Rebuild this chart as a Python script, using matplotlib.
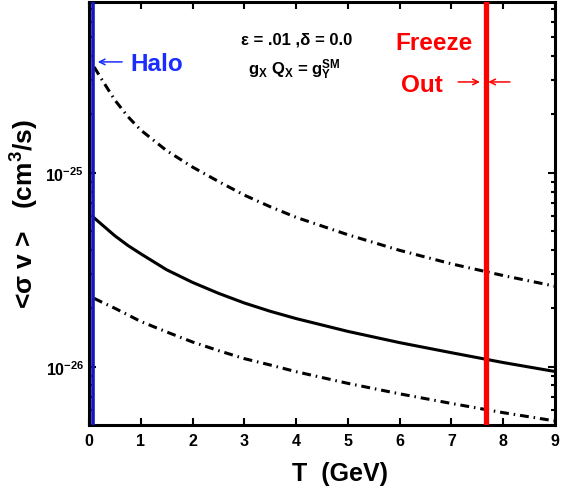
#!/usr/bin/env python
# <sigma v> vs temperature, with the halo and freeze-out temperatures marked

import matplotlib
matplotlib.use("Agg")
import matplotlib.pyplot as plt
import numpy

plt.rcParams['font.family'] = ['Liberation Sans', 'DejaVu Sans']
plt.rcParams['font.weight'] = 'bold'
plt.rcParams['axes.labelweight'] = 'bold'
plt.rcParams['mathtext.fontset'] = 'custom'
plt.rcParams['mathtext.rm'] = 'Liberation Sans:bold'
plt.rcParams['mathtext.it'] = 'Liberation Sans:bold'
plt.rcParams['mathtext.bf'] = 'Liberation Sans:bold'

# temperature grid (GeV) and cross sections (cm^3/s)
T = [0.1, 0.25, 0.5, 0.75, 1.0, 1.5, 2.0, 2.5, 3.0, 3.5, 4.0,
     5.0, 6.0, 7.0, 8.0, 9.0]
sv_central = [5.85e-26, 5.40e-26, 4.73e-26, 4.22e-26, 3.82e-26, 3.16e-26,
              2.72e-26, 2.39e-26, 2.13e-26, 1.93e-26, 1.77e-26,
              1.52e-26, 1.33e-26, 1.18e-26, 1.05e-26, 9.44e-27]
sv_upper = [3.51e-25, 3.02e-25, 2.37e-25, 1.95e-25, 1.66e-25, 1.30e-25,
            1.07e-25, 9.02e-26, 7.67e-26, 6.68e-26, 5.89e-26,
            4.79e-26, 3.98e-26, 3.39e-26, 2.95e-26, 2.60e-26]
sv_lower = [2.25e-26, 2.15e-26, 2.00e-26, 1.85e-26, 1.71e-26, 1.51e-26,
            1.34e-26, 1.21e-26, 1.10e-26, 1.02e-26, 9.42e-27,
            8.20e-27, 7.24e-27, 6.46e-27, 5.79e-27, 5.25e-27]

T_halo = 0.07
T_freeze = 7.67

fig = plt.figure(figsize=(5.65, 4.89), dpi=100)
ax = fig.add_axes([0.1575, 0.1288, 0.8248, 0.8651])

ax.semilogy(T, sv_central, 'k-', lw=2.2)
ax.semilogy(T, sv_upper, 'k-.', lw=2.2, dashes=(2.9, 1.6, 0.5, 1.6))
ax.semilogy(T, sv_lower, 'k-.', lw=2.2, dashes=(2.9, 1.6, 0.5, 1.6))

ax.axvline(T_halo, color='#1414c8', lw=2.6, zorder=5)
ax.axvline(T_freeze, color='#ff0000', lw=3.8, zorder=5)

ax.set_xlim(0, 9)
ax.set_ylim(5.0e-27, 7.6e-25)
ax.set_xticks(range(10))
ax.set_yticks([1e-26, 1e-25])
ax.set_yticklabels([r'$10^{-26}$', r'$10^{-25}$'])
ax.tick_params(which='both', direction='in', top=True, right=True, width=1.5)
ax.tick_params(which='major', length=5, labelsize=11.5)
ax.tick_params(which='minor', length=3)
ax.tick_params(axis='x', pad=6)
for s in ax.spines.values():
    s.set_linewidth(2.2)

ax.set_xlabel('T  (GeV)', fontsize=18, fontweight='bold')
ax.xaxis.set_label_coords(0.539, -0.085)
ax.set_ylabel(r'<σ v >   (cm$^3$/s)', fontsize=19, fontweight='bold')
ax.yaxis.set_label_coords(-0.103, 0.5)

# annotations
ax.text(0.446, 0.901, 'ε = .01 ,δ = 0.0', transform=ax.transAxes,
        ha='center', va='baseline', fontsize=12)
ax.text(0.44, 0.830, r'g$_X$ Q$_X$ = g$_Y^{SM}$', transform=ax.transAxes,
        ha='center', va='baseline', fontsize=12)
ax.text(0.088, 0.839, 'Halo', transform=ax.transAxes, color='#1a2cff',
        ha='left', va='baseline', fontsize=17.5)
ax.text(0.740, 0.889, 'Freeze', transform=ax.transAxes, color='#ff0000',
        ha='center', va='baseline', fontsize=17.5)
ax.text(0.715, 0.790, 'Out', transform=ax.transAxes, color='#ff0000',
        ha='center', va='baseline', fontsize=17.5)

ax.annotate('', xy=(0.17, 3.73e-25), xytext=(0.64, 3.73e-25),
            arrowprops=dict(arrowstyle='->', color='#1a2cff', lw=1.1,
                            shrinkA=0, shrinkB=0))
ax.annotate('', xy=(7.55, 2.94e-25), xytext=(7.13, 2.94e-25),
            arrowprops=dict(arrowstyle='->', color='#ff0000', lw=1.1,
                            shrinkA=0, shrinkB=0))
ax.annotate('', xy=(7.71, 2.94e-25), xytext=(8.13, 2.94e-25),
            arrowprops=dict(arrowstyle='->', color='#ff0000', lw=1.1,
                            shrinkA=0, shrinkB=0))

fig.savefig('out.png', dpi=100)
